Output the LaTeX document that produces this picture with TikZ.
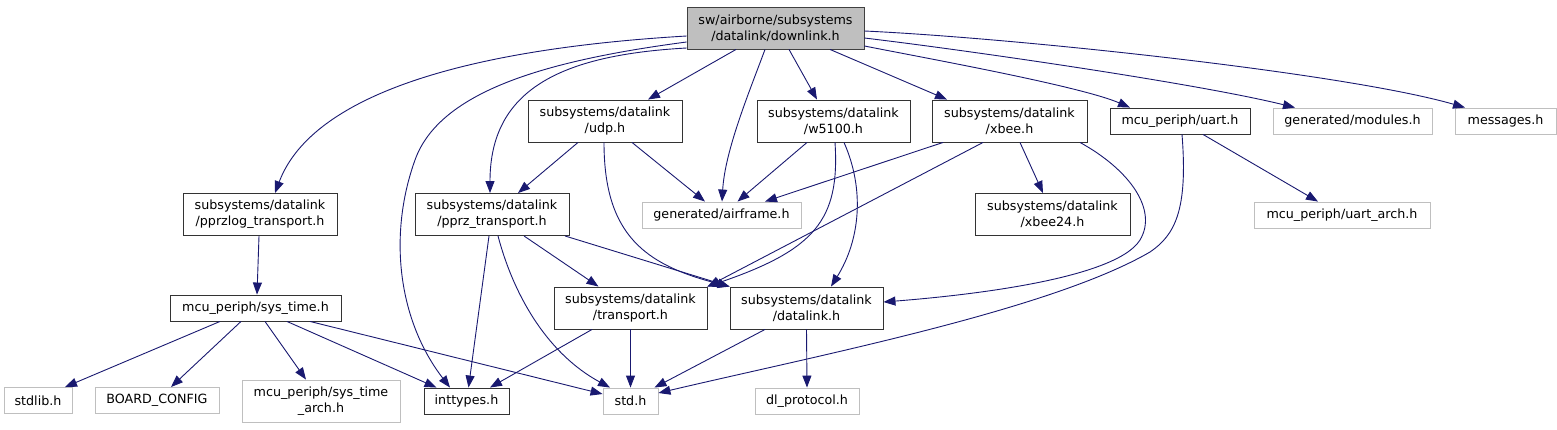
\documentclass[tikz,border=0pt]{standalone}
\usepackage{fontspec}
\setmainfont{DejaVu Sans}
\usetikzlibrary{arrows.meta}
\definecolor{edgeblue}{HTML}{191970}
\definecolor{rootgray}{HTML}{BFBFBF}
\definecolor{extgray}{HTML}{BFBFBF}

\begin{document}
\begin{tikzpicture}[
  x=1pt, y=-1pt,
  font=\fontsize{12.7}{16}\selectfont,
  filebox/.style={rectangle, inner sep=0pt, align=center, line width=0.9pt, fill=white},
  doc/.style={filebox, draw=black!80},
  ext/.style={filebox, draw=extgray},
  rootbox/.style={filebox, draw=black!75, fill=rootgray},
  oneline/.style={minimum height=26pt},
  twoline/.style={minimum height=42pt},
  arrow/.style={-{Triangle[length=12pt,width=9pt]}, edgeblue, line width=0.9pt},
]
\useasboundingbox (0,0) rectangle (1557,429);

% header being documented
\node[rootbox, twoline, minimum width=177pt] (root) at (775.5,28) {sw/airborne/subsystems\\/datalink/downlink.h};

% left branch: logging and time
\node[doc, twoline, minimum width=154pt] (pprzlog)     at (260,214.5) {subsystems/datalink\\/pprzlog\_transport.h};
\node[doc, oneline, minimum width=171pt] (systime)     at (255.5,308) {mcu\_periph/sys\_time.h};
\node[ext, oneline, minimum width=68pt]  (stdlib)      at (38,400.5)  {stdlib.h};
\node[ext, oneline, minimum width=124pt] (boardcfg)    at (157,400.5) {BOARD\_CONFIG};
\node[ext, twoline, minimum width=158pt] (systimearch) at (321,401)   {mcu\_periph/sys\_time\\\_arch.h};

% bottom row
\node[doc, oneline, minimum width=85pt]  (inttypes) at (466.5,401) {inttypes.h};
\node[ext, oneline, minimum width=55pt]  (stdh)     at (630.5,401) {std.h};
\node[ext, oneline, minimum width=104pt] (dlproto)  at (807,401)   {dl\_protocol.h};

% transports
\node[doc, twoline, minimum width=154pt] (pprz)      at (492,214.5) {subsystems/datalink\\/pprz\_transport.h};
\node[doc, twoline, minimum width=153pt] (transport) at (630.5,308) {subsystems/datalink\\/transport.h};
\node[doc, twoline, minimum width=153pt] (datalink)  at (806.5,308) {subsystems/datalink\\/datalink.h};

% device links
\node[doc, twoline, minimum width=154pt] (udp)      at (605,121)    {subsystems/datalink\\/udp.h};
\node[doc, twoline, minimum width=153pt] (w5100)    at (833.5,121)  {subsystems/datalink\\/w5100.h};
\node[doc, twoline, minimum width=155pt] (xbee)     at (1009.5,121) {subsystems/datalink\\/xbee.h};
\node[ext, oneline, minimum width=159pt] (airframe) at (721.5,215)  {generated/airframe.h};
\node[doc, twoline, minimum width=155pt] (xbeetf)   at (1052.5,214.5) {subsystems/datalink\\/xbee24.h};

% right side
\node[doc, oneline, minimum width=140pt] (uart)     at (1180,121)   {mcu\_periph/uart.h};
\node[ext, oneline, minimum width=159pt] (modules)  at (1352.5,121) {generated/modules.h};
\node[ext, oneline, minimum width=101pt] (messages) at (1505.5,121) {messages.h};
\node[ext, oneline, minimum width=176pt] (uartarch) at (1342,215)   {mcu\_periph/uart\_arch.h};

% includes of downlink.h
\draw[arrow] ([yshift=-8pt]root.west) .. controls (450,50) and (310,100) .. ([xshift=15pt]pprzlog.north);
\draw[arrow] ([yshift=-14pt]root.west) .. controls (550,60) and (440,90) .. (415,160)
  .. controls (388,235) and (398,320) .. ([xshift=-16.5pt]inttypes.north);
\draw[arrow] ([yshift=-20pt]root.west) .. controls (560,55) and (490,90) .. ([xshift=-2pt]pprz.north);
\draw[arrow] ([xshift=-39.5pt]root.south) -- ([xshift=43pt]udp.north);
\draw[arrow] ([xshift=-10.5pt]root.south) .. controls (750,90) and (725,150) .. ([xshift=0.5pt]airframe.north);
\draw[arrow] ([xshift=13.5pt]root.south) -- ([xshift=-16.5pt]w5100.north);
\draw[arrow] ([xshift=54.5pt]root.south) -- ([xshift=-62.5pt]xbee.north);
\draw[arrow] ([yshift=-18pt]root.east) .. controls (925,58) and (1080,86) .. ([xshift=-50pt]uart.north);
\draw[arrow] ([yshift=-10pt]root.east) .. controls (965,50) and (1195,83) .. ([xshift=-57.5pt]modules.north);
\draw[arrow] ([yshift=-3pt]root.east) .. controls (1015,38) and (1345,73) .. ([xshift=-40.5pt]messages.north);

% device links
\draw[arrow] ([xshift=-27pt]udp.south) -- ([xshift=26pt]pprz.north);
\draw[arrow] ([xshift=27pt]udp.south) -- ([xshift=-16.5pt]airframe.north);
\draw[arrow] ([xshift=-1pt]udp.south) .. controls (604,235) and (645,265) .. (datalink.north west);
\draw[arrow] ([xshift=-26.5pt]w5100.south) -- ([xshift=16pt]airframe.north);
\draw[arrow] ([xshift=1.5pt]w5100.south) .. controls (840,220) and (815,250) .. (transport.north east);
\draw[arrow] ([xshift=10.5pt]w5100.south) .. controls (865,190) and (860,240) .. ([xshift=24.5pt]datalink.north);
\draw[arrow] ([xshift=-66.5pt]xbee.south) -- ([xshift=43.5pt]airframe.north);
\draw[arrow] ([xshift=-26.5pt]xbee.south) -- (transport.north east);
\draw[arrow] ([xshift=10.5pt]xbee.south) -- ([xshift=-9.5pt]xbeetf.north);
\draw[arrow] ([xshift=70.5pt]xbee.south) .. controls (1130,170) and (1158,210) .. (1140,240)
  .. controls (1115,280) and (960,296) .. ([yshift=6pt]datalink.east);
\draw[arrow] ([xshift=23pt]uart.south) -- ([xshift=-24pt]uartarch.north);
\draw[arrow] ([xshift=2pt]uart.south) .. controls (1188,210) and (1175,235) .. (1150,252)
  .. controls (1050,310) and (820,355) .. ([yshift=8pt]stdh.east);

% transports
\draw[arrow] ([xshift=32pt]pprz.south) -- ([xshift=-32pt]transport.north);
\draw[arrow] ([xshift=73pt]pprz.south) -- (datalink.north west);
\draw[arrow] ([xshift=-3pt]pprz.south) -- ([xshift=2pt]inttypes.north);
\draw[arrow] ([xshift=6pt]pprz.south) .. controls (515,300) and (550,355) .. ([xshift=-20.5pt]stdh.north);
\draw[arrow] ([xshift=-38.5pt]transport.south) -- ([xshift=23.5pt]inttypes.north);
\draw[arrow] (transport.south) -- (stdh.north);
\draw[arrow] ([xshift=-41.5pt]datalink.south) -- ([xshift=24pt]stdh.north);
\draw[arrow] (datalink.south) -- (dlproto.north);

% time
\draw[arrow] ([xshift=-1pt]pprzlog.south) -- ([xshift=1.5pt]systime.north);
\draw[arrow] ([xshift=-35.5pt]systime.south) -- ([xshift=27pt]stdlib.north);
\draw[arrow] ([xshift=-14.5pt]systime.south) -- ([xshift=14pt]boardcfg.north);
\draw[arrow] ([xshift=9.5pt]systime.south) -- ([xshift=-15pt]systimearch.north);
\draw[arrow] ([xshift=31.5pt]systime.south) -- ([xshift=-30pt]inttypes.north);
\draw[arrow] ([xshift=54.5pt]systime.south) -- ([yshift=7pt]stdh.west);

\end{tikzpicture}
\end{document}
